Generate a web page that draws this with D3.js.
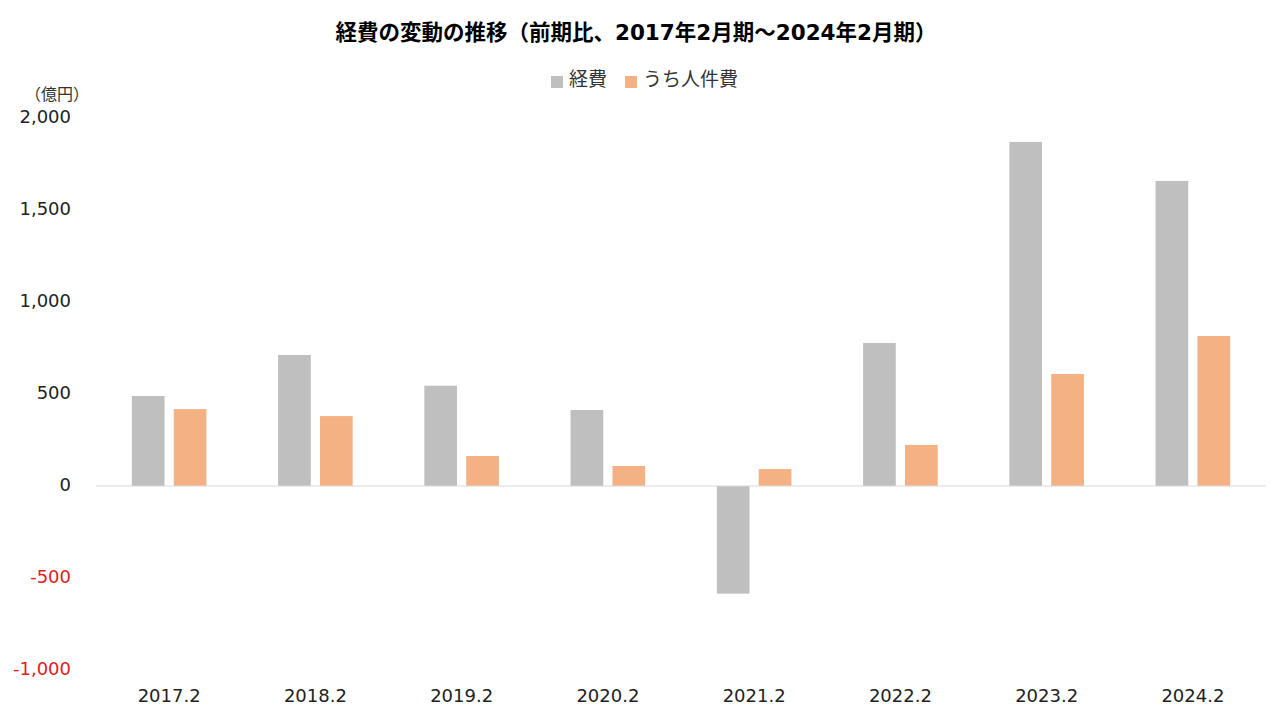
<!DOCTYPE html>
<html><head><meta charset="utf-8">
<script src="https://cdn.jsdelivr.net/npm/d3@7"></script>
<style>
body{margin:0;background:#fff;}
svg{display:block;font-family:"DejaVu Sans","Noto Sans CJK JP",sans-serif;}
</style></head><body>
<svg id="chart" width="1280" height="720"></svg>
<script>
const categories = ["2017.2","2018.2","2019.2","2020.2","2021.2","2022.2","2023.2","2024.2"];
const seriesNames = ["経費","うち人件費"];
const expenses = [489, 712, 545, 413, -585, 777, 1870, 1658];
const personnel = [418, 380, 163, 109, 92, 223, 609, 815];
const yTicks = [-1000, -500, 0, 500, 1000, 1500, 2000];
const colors = ["#bfbfbf", "#f4b183"];
const title = "経費の変動の推移（前期比、2017年2月期～2024年2月期）";
const unitLabel = "（億円）";

const svg = d3.select("#chart");
const plotLeft = 96, plotRight = 1266, plotTop = 118, plotBottom = 670;

const x = d3.scaleBand().domain(categories).range([plotLeft, plotRight]).paddingInner(0.49).paddingOuter(0.245);
const xi = d3.scaleBand().domain(seriesNames).range([0, x.bandwidth()]).paddingInner(0.22);
const y = d3.scaleLinear().domain([-1000, 2000]).range([plotBottom, plotTop]);

const data = categories.map((c,i)=>({cat:c, vals:[expenses[i], personnel[i]]}));

// title
svg.append("text").attr("x", 636).attr("y", 40).attr("text-anchor","middle")
  .attr("font-size", 21.5).attr("font-weight","bold").attr("fill","#000").text(title);

// legend
const legend = svg.append("g");
const legItems = [{n:seriesNames[0], x:551, c:colors[0]},{n:seriesNames[1], x:625, c:colors[1]}];
legItems.forEach(d=>{
  legend.append("rect").attr("x", d.x).attr("y", 76).attr("width", 12).attr("height", 12).attr("fill", d.c);
  legend.append("text").attr("x", d.x+18).attr("y", 86).attr("font-size", 19)
    .attr("font-family","\"Noto Sans CJK JP\",sans-serif").attr("fill","#333").text(d.n);
});

// unit label
svg.append("text").attr("x", 57).attr("y", 100).attr("text-anchor","middle").attr("font-size", 16)
  .attr("font-family","\"Noto Sans CJK JP\",sans-serif").attr("fill","#333").text(unitLabel);

// y axis labels
const yAxis = d3.axisLeft(y).tickValues(yTicks).tickSize(0).tickPadding(0)
  .tickFormat(d => d3.format(",")(d).replace("−","-"));
const yg = svg.append("g").attr("transform", `translate(71,-1)`).call(yAxis);
yg.select(".domain").remove();
yg.selectAll("text").attr("font-size", 18).attr("font-family","\"DejaVu Sans\",sans-serif")
  .attr("fill", d => d < 0 ? "#e0201f" : "#222");

// bars
const groups = svg.append("g").selectAll("g").data(data).join("g")
  .attr("transform", d => `translate(${x(d.cat)},0)`);
groups.selectAll("rect").data(d => d.vals.map((v,i)=>({v, s:seriesNames[i], i})))
  .join("rect")
  .attr("x", d => xi(d.s))
  .attr("width", xi.bandwidth())
  .attr("y", d => y(Math.max(0, d.v)))
  .attr("height", d => Math.abs(y(d.v) - y(0)))
  .attr("fill", d => colors[d.i]);

// zero line
svg.append("line").attr("x1", plotLeft).attr("x2", plotRight).attr("y1", y(0)).attr("y2", y(0))
  .attr("stroke", "#d9d9d9").attr("stroke-width", 1);

// x axis labels
const xAxis = d3.axisBottom(x).tickSize(0).tickPadding(0);
const xg = svg.append("g").attr("transform", `translate(0,689)`).call(xAxis);
xg.select(".domain").remove();
xg.selectAll("text").attr("font-size", 18).attr("font-family","\"DejaVu Sans\",sans-serif").attr("fill","#222");
</script>
</body></html>
